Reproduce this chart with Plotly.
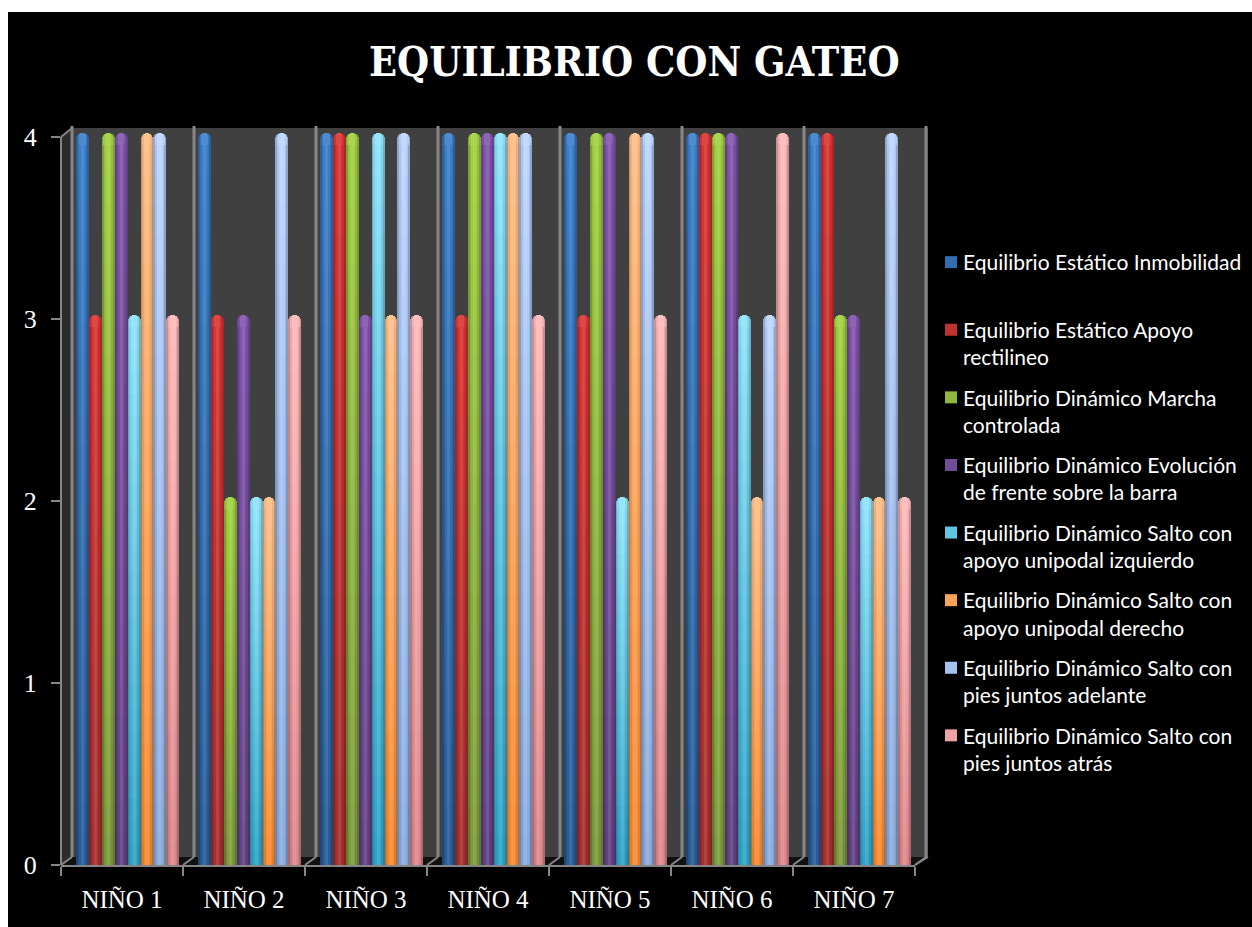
"""Equilibrio con gateo: barras por niño, imitando el grafico 3D de cilindros."""
import plotly.graph_objects as go

CATEGORIES = ["NIÑO 1", "NIÑO 2", "NIÑO 3", "NIÑO 4", "NIÑO 5", "NIÑO 6", "NIÑO 7"]

INMOBILIDAD = [4, 4, 4, 4, 4, 4, 4]
APOYO_RECTILINEO = [3, 3, 4, 3, 3, 4, 4]
MARCHA_CONTROLADA = [4, 2, 4, 4, 4, 4, 3]
EVOLUCION_BARRA = [4, 3, 3, 4, 4, 4, 3]
SALTO_IZQUIERDO = [3, 2, 4, 4, 2, 3, 2]
SALTO_DERECHO = [4, 2, 3, 4, 4, 2, 2]
PIES_ADELANTE = [4, 4, 4, 4, 4, 3, 4]
PIES_ATRAS = [3, 3, 3, 3, 3, 4, 2]

SERIES = [
    ("Equilibrio Estático Inmobilidad<br> ", INMOBILIDAD, (58, 125, 200), (40, 92, 150)),
    ("Equilibrio Estático Apoyo<br>rectilineo", APOYO_RECTILINEO, (216, 52, 50), (165, 48, 46)),
    ("Equilibrio Dinámico Marcha<br>controlada", MARCHA_CONTROLADA, (160, 208, 64), (125, 155, 60)),
    ("Equilibrio Dinámico Evolución<br>de frente sobre la barra", EVOLUCION_BARRA, (128, 84, 172), (98, 66, 132)),
    ("Equilibrio Dinámico Salto con<br>apoyo unipodal izquierdo", SALTO_IZQUIERDO, (140, 226, 250), (48, 165, 200)),
    ("Equilibrio Dinámico Salto con<br>apoyo unipodal derecho", SALTO_DERECHO, (255, 188, 132), (248, 136, 46)),
    ("Equilibrio Dinámico Salto con<br>pies juntos adelante", PIES_ADELANTE, (186, 212, 255), (140, 172, 222)),
    ("Equilibrio Dinámico Salto con<br>pies juntos atrás", PIES_ATRAS, (255, 184, 184), (222, 136, 140)),
]

Y_TICKS = [0, 1, 2, 3, 4]
Y_MAX = 4.05  # deja sitio a la tapa sobre el 4
N_BANDS = 24
CAP_BELOW = 0.044  # la tapa redondeada empieza un poco bajo el valor
CAP_RISE = 0.022   # y asoma sobre la linea del tick, como en el 3D

FIG_W, FIG_H = 1252, 927
PLOT_L, PLOT_R, PLOT_T, PLOT_B = 61, 915, 128, 865


def fx(px):
    return (px - PLOT_L) / (PLOT_R - PLOT_L)


def fy(px):
    return (PLOT_B - px) / (PLOT_B - PLOT_T)


def rgb(c, a=1):
    return f"rgba({c[0]},{c[1]},{c[2]},{a})"


def mix(a, b, t):
    return tuple(round(a[i] + (b[i] - a[i]) * t) for i in range(3))


BLACK, WHITE = (0, 0, 0), (255, 255, 255)
BAR_W = 12.9 / 122
FIRST_OFF = (76 - 122) / 122
xs = list(range(len(CATEGORIES)))

fig = go.Figure()
for s, (name, values, top, bottom) in enumerate(SERIES):
    off = FIRST_OFF + s * BAR_W
    heights = [v - CAP_BELOW for v in values]
    # tapa redondeada: barras anidadas sin base (solo se curva el extremo de arriba),
    # el cuerpo las tapa por debajo
    for frac, wid, col, radius in [(0, 1, mix(top, BLACK, .2), 6),
                                   (.12, .76, mix(top, BLACK, .04), 5),
                                   (.26, .48, mix(top, WHITE, .1), 3)]:
        fig.add_trace(go.Bar(
            x=xs, y=[v + CAP_RISE for v in values],
            offset=off + frac * BAR_W, width=wid * BAR_W,
            marker=dict(color=rgb(col), line_width=0, cornerradius=radius),
            showlegend=False, legendgroup=name, cliponaxis=False, hoverinfo="skip",
        ))
    for b in range(N_BANDS):
        t = b / (N_BANDS - 1)
        fig.add_trace(go.Bar(
            x=xs, y=[h / N_BANDS for h in heights],
            base=[h * b / N_BANDS for h in heights],
            offset=off, width=BAR_W, name=name,
            marker=dict(color=rgb(mix(bottom, top, t)), line_width=0),
            legendgroup=name, showlegend=b == N_BANDS // 2,
            cliponaxis=False, hoverinfo="skip",
        ))
    # sombreado del cilindro
    for frac, wid, col in [(0, .14, "rgba(0,0,0,.22)"), (.86, .14, "rgba(0,0,0,.22)"),
                           (.14, .12, "rgba(0,0,0,.08)"), (.74, .12, "rgba(0,0,0,.08)"),
                           (.38, .24, "rgba(255,255,255,.10)")]:
        fig.add_trace(go.Bar(
            x=xs, y=heights, offset=off + frac * BAR_W, width=wid * BAR_W,
            marker=dict(color=col, line_width=0), showlegend=False,
            legendgroup=name, cliponaxis=False, hoverinfo="skip",
        ))

GREY = "#868686"
shapes = [
    # fondo negro sobre pagina blanca
    dict(type="rect", xref="paper", yref="paper", x0=fx(8), x1=fx(1252), y0=fy(12), y1=fy(927),
         fillcolor="#000", line_width=0, layer="below"),
    # pared del fondo
    dict(type="rect", xref="paper", yref="paper", x0=fx(72), x1=fx(928), y0=fy(128), y1=fy(857),
         fillcolor="#404040", line_width=0, layer="below"),
    # pared lateral
    dict(type="path", xref="paper", yref="paper", layer="below", fillcolor="#2b2b2b", line_width=0,
         path=f"M{fx(61)},{fy(137)} L{fx(72)},{fy(128)} L{fx(72)},{fy(857)} L{fx(61)},{fy(865)} Z"),
    # suelo
    dict(type="path", xref="paper", yref="paper", layer="below", fillcolor="#111", line_width=0,
         path=f"M{fx(61)},{fy(865)} L{fx(72)},{fy(857)} L{fx(928)},{fy(857)} L{fx(915)},{fy(865)} Z"),
    dict(type="line", xref="paper", yref="paper", x0=fx(915), x1=fx(928), y0=fy(865), y1=fy(857),
         line=dict(color=GREY, width=2), layer="below"),
    # eje vertical solo hasta el 4
    dict(type="line", xref="paper", yref="paper", x0=fx(61), x1=fx(61), y0=fy(137), y1=fy(865),
         line=dict(color=GREY, width=2), layer="below"),
]
for i in range(8):
    px = 72 + i * 122
    shapes.append(dict(type="line", xref="paper", yref="paper", x0=fx(px), x1=fx(px), y0=fy(126), y1=fy(857),
                       line=dict(color=GREY, width=3), layer="below"))
    shapes.append(dict(type="line", xref="paper", yref="paper", x0=fx(px - 11), x1=fx(px), y0=fy(865), y1=fy(857),
                       line=dict(color=GREY, width=2), layer="below"))
shapes.append(dict(type="line", xref="paper", yref="paper", x0=fx(61), x1=fx(72), y0=fy(137), y1=fy(128),
                   line=dict(color=GREY, width=2), layer="below"))

fig.update_layout(
    width=FIG_W, height=FIG_H,
    margin=dict(l=PLOT_L, r=FIG_W - PLOT_R, t=PLOT_T, b=FIG_H - PLOT_B, autoexpand=False),
    paper_bgcolor="white", plot_bgcolor="rgba(0,0,0,0)",
    barmode="overlay", bargap=0, shapes=shapes,
    font=dict(family="Liberation Serif", color="white"),
    xaxis=dict(range=[-0.5, 6.5], tickvals=xs, ticktext=CATEGORIES, ticks="", showgrid=False,
               zeroline=False, showline=True, linecolor=GREY, linewidth=2, ticklabelstandoff=11,
               tickfont=dict(size=25, color="white", family="Liberation Serif"),
               minor=dict(tickvals=[i - 0.5 for i in range(8)], ticks="outside", ticklen=9,
                          tickcolor=GREY, tickwidth=2, showgrid=False)),
    yaxis=dict(range=[0, Y_MAX], tickvals=Y_TICKS, showgrid=False, zeroline=False, showline=False,
               ticks="outside", ticklen=9, tickcolor=GREY, tickwidth=2,
               ticklabelstandoff=9, tickfont=dict(size=26, color="white", family="Liberation Serif")),
    legend=dict(x=fx(923), xanchor="left", y=fy(242), yanchor="top", bgcolor="rgba(0,0,0,0)",
                font=dict(family="Lato", size=21, color="white"), valign="top",
                tracegroupgap=10, traceorder="grouped", itemclick=False, itemdoubleclick=False),
    annotations=[dict(text="<b>EQUILIBRIO CON GATEO</b>", xref="paper", yref="paper",
                      x=fx(634), y=fy(62), xanchor="center", yanchor="middle", showarrow=False,
                      font=dict(family="DejaVu Serif Condensed", size=41, color="white"))],
)

# sin margen del body; el cuadrado de la leyenda mas cerca del texto
post = """
document.body.style.margin = '0';
document.documentElement.style.overflow = 'hidden';
document.querySelectorAll('.legendsymbols').forEach(function (e) {
  e.setAttribute('transform', 'translate(8,0)');
});
"""
fig.write_html("out.html", post_script=post, config=dict(displayModeBar=False))
